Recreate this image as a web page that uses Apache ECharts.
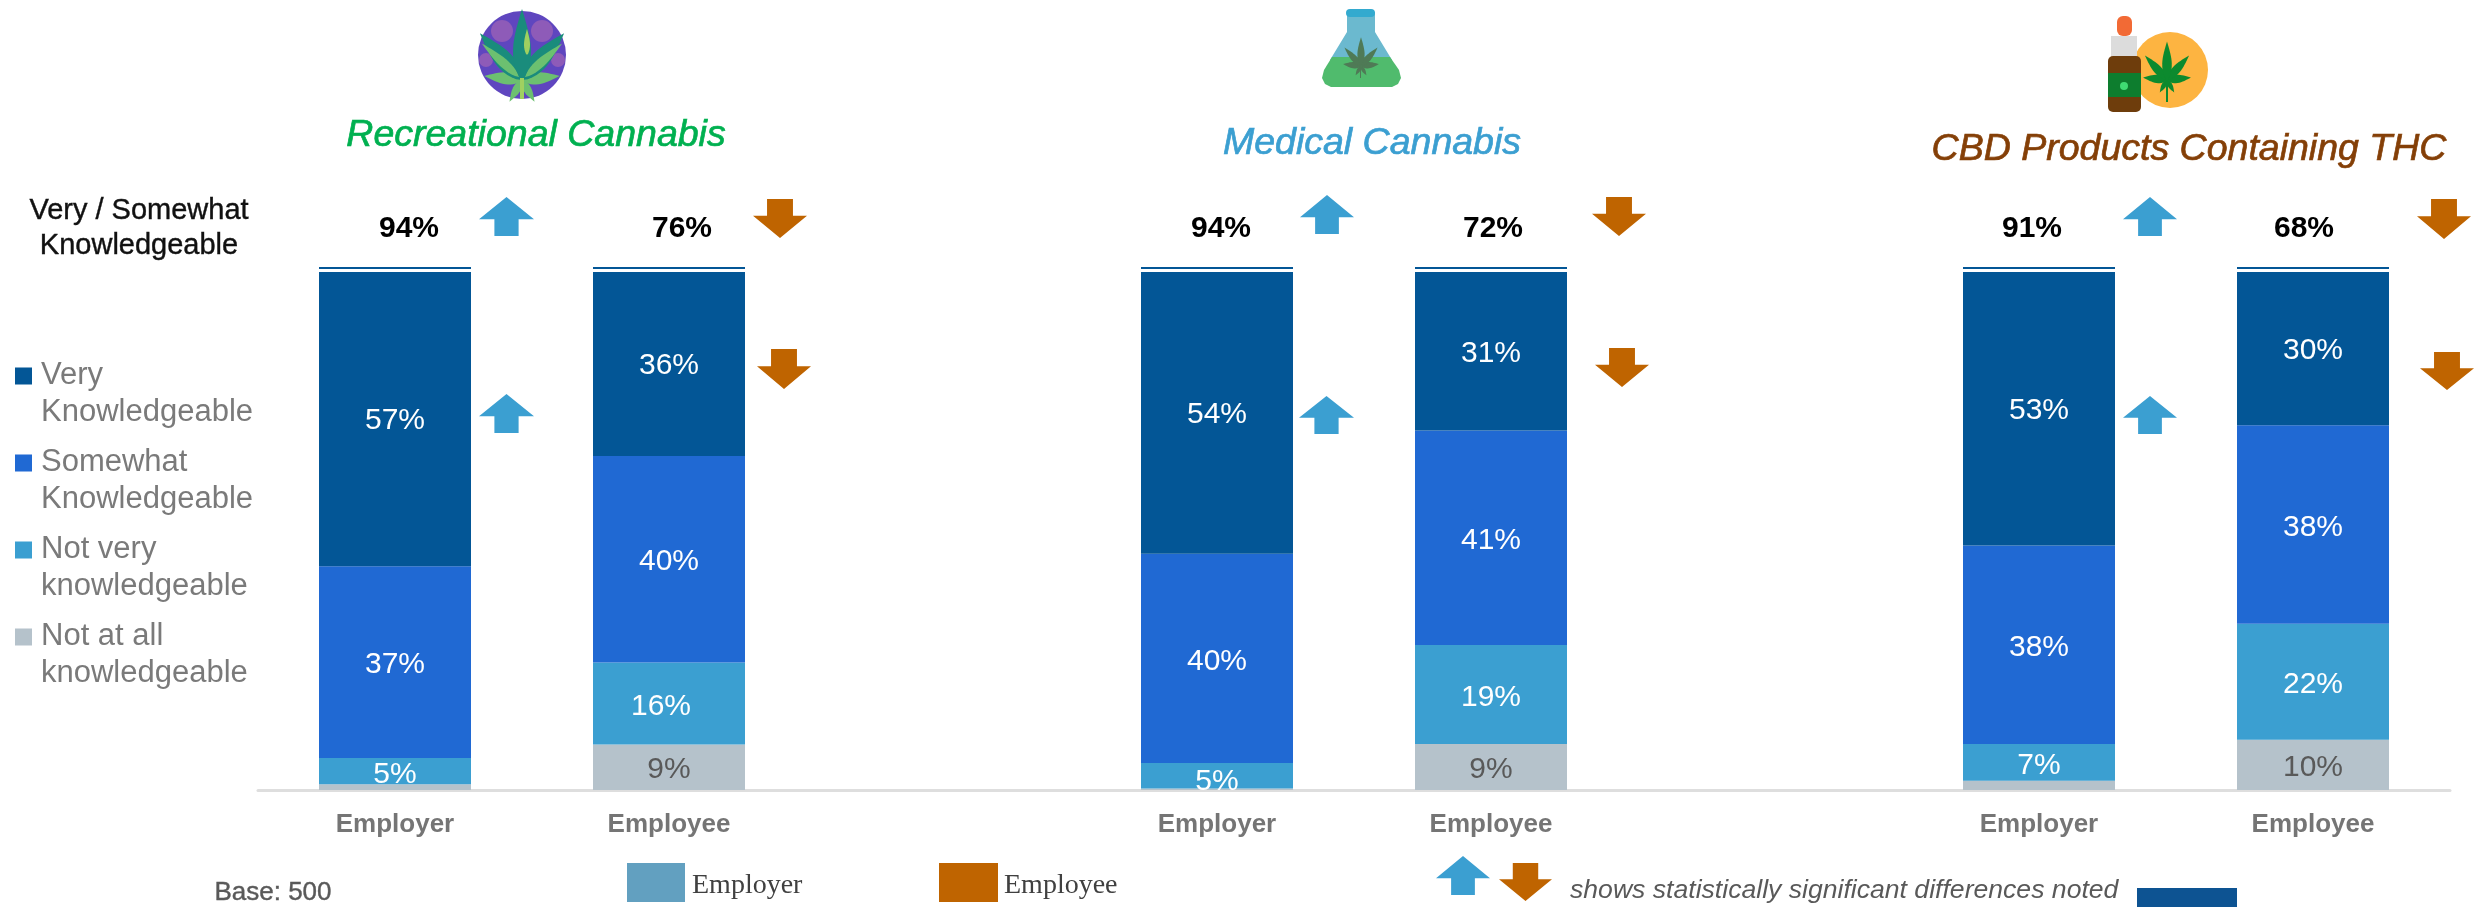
<!DOCTYPE html>
<html><head><meta charset="utf-8">
<style>html,body{margin:0;padding:0;background:#fff}#c{width:2484px;height:907px}</style>
<script src="https://cdn.jsdelivr.net/npm/echarts@6/dist/echarts.min.js"></script></head>
<body><div id="c"></div>
<script>
const categories = ['Employer','Employee','','Employer','Employee','','Employer','Employee'];
const veryValues = [56.8,35.5,null,54.4,30.6,null,52.8,29.6];
const somewhatValues = [37.0,39.9,null,40.4,41.4,null,38.3,38.3];
const notVeryValues = [5.1,15.8,null,4.9,19.1,null,7.1,22.4];
const notAtAllValues = [1.1,8.8,null,0.3,8.9,null,1.8,9.7];
const topBoxValues = [94,76,null,94,72,null,91,68];
const topBoxShift = [14,13,0,4,2,0,-7,-9];
const seriesNames = ['Very\nKnowledgeable','Somewhat\nKnowledgeable','Not very\nknowledgeable','Not at all\nknowledgeable'];
const colors = {very:'#035696',somewhat:'#2069d3',notVery:'#3b9fd1',notAtAll:'#b5c2cb'};
const FONT = '"Liberation Sans",Arial,sans-serif';
const UP='#3b9fd1', DOWN='#bf6400';

function barSeries(name,data,color,labelColor,dy,itemOffsets){
  return {type:'bar',name,stack:'total',barWidth:152,
    data:data.map((v,i)=>(itemOffsets&&itemOffsets[i])?{value:v,label:{offset:itemOffsets[i]}}:v),
    itemStyle:{color},
    label:{show:true,position:'inside',offset:[0,dy],color:labelColor,fontFamily:FONT,fontSize:30,
      formatter:p=>(p.value>=2?Math.round(p.value)+'%':'')}};
}
const chart = echarts.init(document.getElementById('c'),null,{renderer:'canvas'});

function upArrow(l,r,top,bottom){
  const w=r-l, sh=top+(bottom-top)*0.57, a=l+w*0.28, b=r-w*0.28;
  return {type:'polygon',shape:{points:[[(l+r)/2,top],[r,sh],[b,sh],[b,bottom],[a,bottom],[a,sh],[l,sh]]},style:{fill:UP}};
}
function downArrow(l,r,top,bottom){
  const w=r-l, sh=top+(bottom-top)*0.43, a=l+w*0.26, b=r-w*0.26;
  return {type:'polygon',shape:{points:[[a,top],[b,top],[b,sh],[r,sh],[(l+r)/2,bottom],[l,sh],[a,sh]]},style:{fill:DOWN}};
}
function text(t,x,y,size,color,opt){
  return {type:'text',x,y,style:Object.assign({text:t,fontFamily:FONT,fontSize:size,fill:color,align:'center',verticalAlign:'middle'},opt||{})};
}
function leaflet(cx,cy,len,w,deg,color){
  const p=[]; const n=14;
  for(let i=0;i<=n;i++){const t=i/n;p.push([w*Math.sin(Math.PI*Math.pow(t,0.75)),-len*t]);}
  for(let i=n-1;i>0;i--){const t=i/n;p.push([-w*Math.sin(Math.PI*Math.pow(t,0.75)),-len*t]);}
  return {type:'polygon',x:cx,y:cy,rotation:-deg*Math.PI/180,shape:{points:p},style:{fill:color}};
}
function leaf(cx,cy,s,c1,c2,c3){
  const out=[];
  [[24,4,-150,c3],[24,4,150,c3],[40,7,-84,c3],[40,7,84,c3],[55,7,-42,c2],[55,7,42,c2],[64,8,0,c1]].forEach(d=>{
    out.push(leaflet(cx,cy,d[0]*s,d[1]*s,d[2],d[3]));
  });
  return out;
}
const icons=[
  {type:'circle',shape:{cx:522,cy:55,r:44},style:{fill:'#5f46bf'}},
  {type:'circle',shape:{cx:502,cy:31,r:11},style:{fill:'#8e5bb8'}},
  {type:'circle',shape:{cx:542,cy:31,r:11},style:{fill:'#8e5bb8'}},
  {type:'circle',shape:{cx:486,cy:60,r:7},style:{fill:'#8e5bb8'}},
  {type:'circle',shape:{cx:558,cy:60,r:7},style:{fill:'#8e5bb8'}},
  leaflet(522,80,25,4,-150,'#6cc070'),leaflet(522,80,25,4,150,'#6cc070'),
  leaflet(522,80,38,6,-84,'#6cc070'),leaflet(522,80,38,6,84,'#6cc070'),
  leaflet(522,80,63,9,-42,'#1a8c7c'),leaflet(522,80,63,9,42,'#1a8c7c'),
  leaflet(519,77,50,4.5,-48,'#6cc070'),leaflet(525,77,50,4.5,48,'#6cc070'),
  leaflet(522,80,71,9,0,'#1a8c7c'),
  leaflet(527,55,26,3,0,'#a0d060'),
  {type:'rect',shape:{x:520,y:78,width:4,height:21},style:{fill:'#a0d060'}},
  // flask
  {type:'polygon',shape:{points:[[1347,12],[1375,12],[1375,32],[1392,60],[1330,60],[1347,32]]},style:{fill:'#6bb9cf'}},
  {type:'polygon',shape:{points:[[1332,57],[1390,57],[1399,70],[1401,78],[1398,84],[1392,87],[1331,87],[1325,84],[1322,78],[1324,70]]},style:{fill:'#50bb6d'}},
  {type:'rect',shape:{x:1346,y:9,width:29,height:8,r:4},style:{fill:'#33aacf'}},
  ...leaf(1361,66,0.45,'#4f7a56','#4f7a56','#4f7a56'),
  {type:'rect',shape:{x:1360,y:64,width:1,height:14},style:{fill:'#4f7a56'}},
  // dropper and disc
  {type:'circle',shape:{cx:2170,cy:70,r:38},style:{fill:'#fdb441'}},
  ...leaf(2167,80,0.6,'#0c8a2e','#0c8a2e','#0c8a2e'),
  {type:'rect',shape:{x:2166,y:78,width:2,height:24},style:{fill:'#0c8a2e'}},
  {type:'rect',shape:{x:2117,y:16,width:15,height:20,r:6},style:{fill:'#f26a35'}},
  {type:'rect',shape:{x:2111,y:36,width:26,height:20},style:{fill:'#dcdcdc'}},
  {type:'rect',shape:{x:2108,y:56,width:33,height:56,r:5},style:{fill:'#6e3d0c'}},
  {type:'rect',shape:{x:2108,y:73,width:33,height:24},style:{fill:'#0d7d2e'}},
  {type:'circle',shape:{cx:2124,cy:86,r:4},style:{fill:'#3fdc73'}}
];
const arrows=[
  upArrow(479,534,197,236),downArrow(753,807,199,238),
  upArrow(479,534,394,433),downArrow(757,811,349,389),
  upArrow(1300,1354,195,234),downArrow(1592,1646,197,236),
  upArrow(1299,1354,396,434),downArrow(1595,1649,348,387),
  upArrow(2123,2177,197,236),downArrow(2417,2471,199,239),
  upArrow(2123,2177,396,434),downArrow(2420,2474,352,390),
  upArrow(1436,1490,856,895),downArrow(1499,1552,863,901)
];
const heading={fontStyle:'italic',lineWidth:0.7};
const texts=[
  text('Recreational Cannabis',536,136,37.5,'#00b050',Object.assign({stroke:'#00b050'},heading)),
  text('Medical Cannabis',1372,144,37.5,'#3b9fd1',Object.assign({stroke:'#3b9fd1'},heading)),
  text('CBD Products Containing THC',2189,150,37.5,'#843f07',Object.assign({stroke:'#843f07'},heading)),
  text('Very / Somewhat',139,211,29,'#111',{stroke:'#111',lineWidth:0.4}),
  text('Knowledgeable',139,246,29,'#111',{stroke:'#111',lineWidth:0.4}),
  text('Base: 500',273,893,26,'#595959',{stroke:'#595959',lineWidth:0.4}),
  {type:'rect',shape:{x:627,y:863,width:58,height:39},style:{fill:'#62a0c0'}},
  text('Employer',692,886,28,'#404040',{align:'left',fontFamily:'"Liberation Serif",serif'}),
  {type:'rect',shape:{x:939,y:863,width:59,height:39},style:{fill:DOWN}},
  text('Employee',1004,886,28,'#404040',{align:'left',fontFamily:'"Liberation Serif",serif'}),
  text('shows statistically significant differences noted',1570,891,26.6,'#595959',{align:'left',fontStyle:'italic'}),
  {type:'rect',shape:{x:2137,y:888,width:100,height:19},style:{fill:'#0d5392'}}
];

chart.setOption({
  animation:false,
  backgroundColor:'#fff',
  grid:{left:258,top:272,width:2192,height:518,containLabel:false},
  xAxis:{type:'category',data:categories,
    axisLine:{lineStyle:{color:'#dedede',width:3}},axisTick:{show:false},
    axisLabel:{interval:0,margin:22,color:'#757575',fontFamily:FONT,fontSize:26,fontWeight:'bold'}},
  yAxis:{type:'value',min:0,max:100,show:false,splitLine:{show:false}},
  legend:{orient:'vertical',left:15,top:357,padding:0,itemWidth:17,itemHeight:53,itemGap:13,
    icon:'path://M0 0H17V17H0Z M0 53L0.01 53L0 53Z',
    data:seriesNames,selectedMode:false,
    textStyle:{color:'#7a7a7a',fontFamily:FONT,fontSize:31,lineHeight:37,padding:[0,0,0,4]},itemStyle:{borderWidth:0}},
  series:[
    barSeries(seriesNames[3],notAtAllValues,colors.notAtAll,'#595959',3),
    barSeries(seriesNames[2],notVeryValues,colors.notVery,'#fff',3,{0:[0,4],1:[-8,3],3:[0,6]}),
    barSeries(seriesNames[1],somewhatValues,colors.somewhat,'#fff',3),
    barSeries(seriesNames[0],veryValues,colors.very,'#fff',2),
    {type:'custom',name:'Very / Somewhat Knowledgeable',silent:true,clip:false,z:5,
      data:topBoxValues.map((v,i)=>[i,v]).filter(d=>d[1]!=null),
      encode:{x:0,y:1},
      renderItem(params,api){
        const i=api.value(0), top=api.coord([i,100]), w=152;
        return {type:'group',children:[
          {type:'rect',shape:{x:top[0]-w/2,y:top[1]-5,width:w,height:2},style:{fill:colors.very}},
          {type:'text',x:top[0]+topBoxShift[i],y:229,style:{text:api.value(1)+'%',fontFamily:FONT,fontSize:30,fontWeight:'bold',fill:'#000',align:'center',verticalAlign:'middle'}}
        ]};
      }}
  ],
  graphic:{elements:[...icons,...arrows,...texts]}
});
</script></body></html>
